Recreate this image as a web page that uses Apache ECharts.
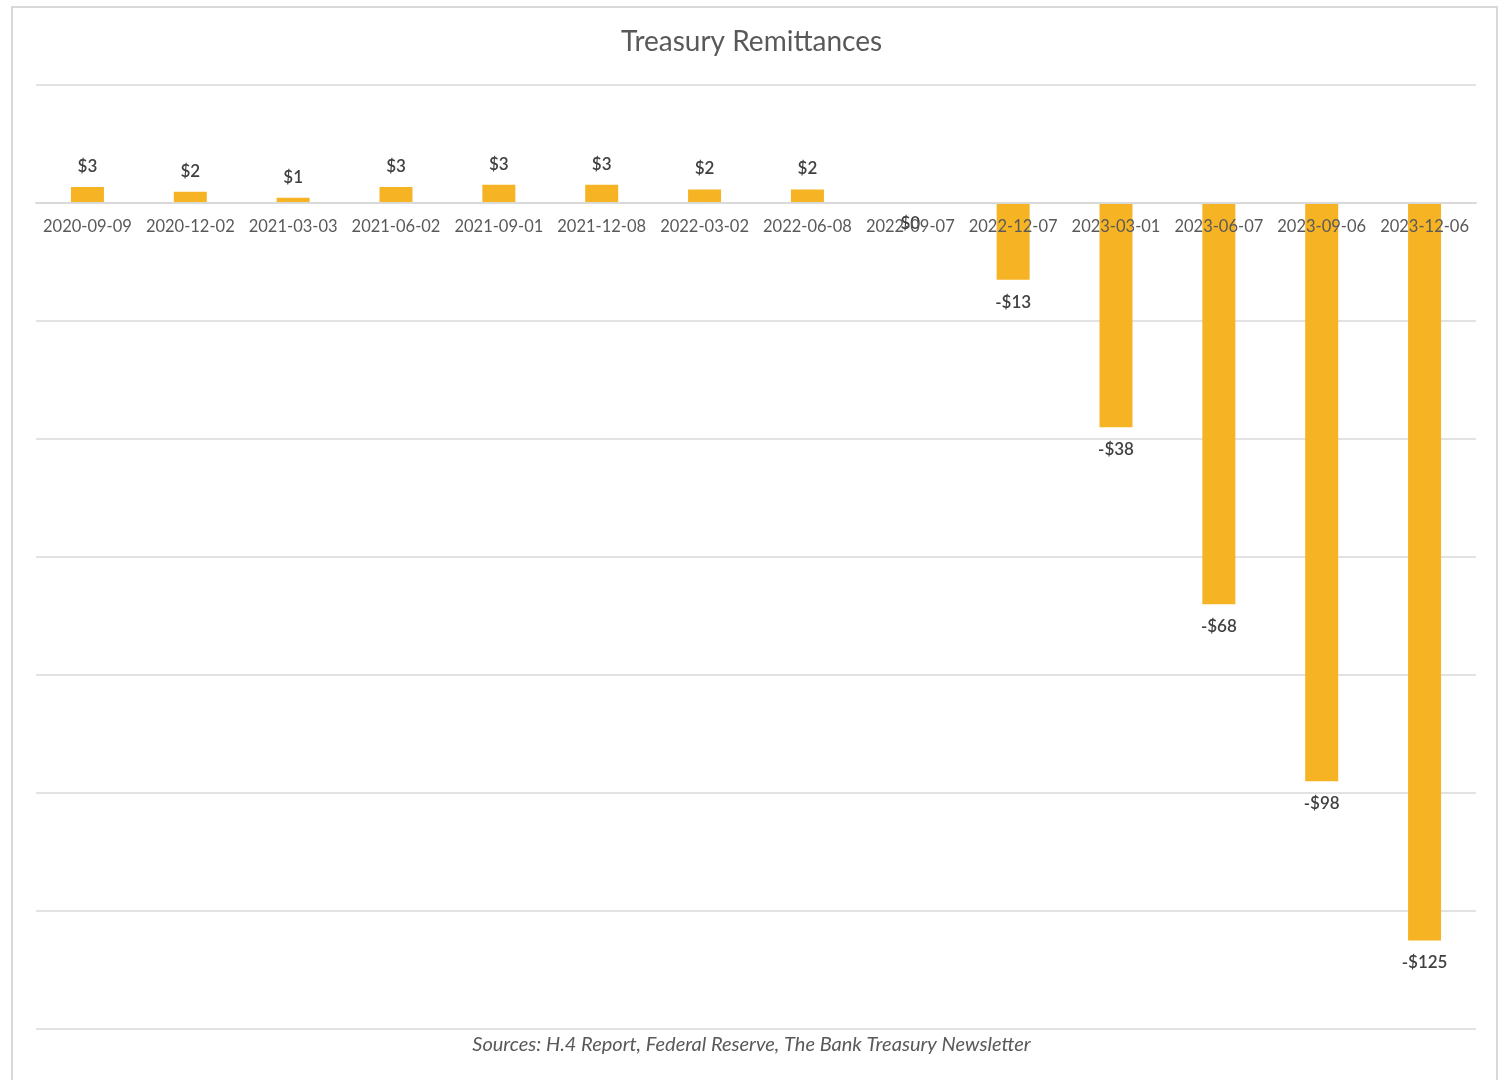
<!DOCTYPE html>
<html>
<head>
<meta charset="utf-8">
<script src="https://cdn.jsdelivr.net/npm/echarts@6/dist/echarts.min.js"></script>
<style>
html,body{margin:0;padding:0;background:#fff;}
#chart{width:1503px;height:1080px;}
</style>
</head>
<body>
<div id="chart"></div>
<script>
const categories = ['2020-09-09','2020-12-02','2021-03-03','2021-06-02','2021-09-01','2021-12-08','2022-03-02','2022-06-08','2022-09-07','2022-12-07','2023-03-01','2023-06-07','2023-09-06','2023-12-06'];
const remittances = [2.7, 1.9, 0.9, 2.7, 3.1, 3.1, 2.3, 2.3, 0, -13, -38, -68, -98, -125];
const titleText = 'Treasury Remittances';
const sourceText = 'Sources: H.4 Report, Federal Reserve, The Bank Treasury Newsletter';

const chart = echarts.init(document.getElementById('chart'));
const fmt = v => (v < 0 ? '-$' : '$') + Math.abs(Math.round(v));
const option = {
  animation: false,
  textStyle: { fontFamily: 'Lato' },
  title: {
    text: titleText,
    left: 'center', top: 23,
    textStyle: { fontFamily: 'Lato', fontSize: 28, fontWeight: 'normal', color: '#595959' }
  },
  graphic: [
    { type: 'rect', shape: { x: 12, y: 7, width: 1485, height: 1080 }, style: { fill: 'none', stroke: '#d9d9d9', lineWidth: 2 }, silent: true },
    { type: 'text', left: 'center', top: 1035, style: { text: sourceText, font: 'italic 20px Lato', fill: '#595959' } }
  ],
  grid: { left: 36, right: 27, top: 85, bottom: 51, containLabel: false },
  xAxis: {
    type: 'category',
    data: categories,
    offset: -826,
    axisLine: { onZero: false, lineStyle: { color: '#d9d9d9', width: 2 } },
    axisTick: { show: false },
    axisLabel: { margin: 15, fontSize: 16.5, color: '#595959', fontFamily: 'Lato', interval: 0 },
    z: 5
  },
  yAxis: {
    type: 'value',
    min: -140, max: 20, interval: 20,
    axisLabel: { show: false },
    axisLine: { show: false },
    axisTick: { show: false },
    splitLine: { lineStyle: { color: '#d9d9d9', width: 1.5 } }
  },
  series: [{
    type: 'bar',
    barWidth: 33,
    itemStyle: { color: '#F6B324' },
    z: 3,
    data: remittances.map(v => ({
      value: v,
      label: { position: v > 0 ? 'top' : 'bottom', distance: v < 0 ? 14 : 12 }
    })),
    label: {
      show: true,
      fontSize: 17,
      fontWeight: 600,
      color: '#404040',
      fontFamily: 'Lato',
      formatter: p => fmt(p.value)
    }
  }]
};
chart.setOption(option);
</script>
</body>
</html>
